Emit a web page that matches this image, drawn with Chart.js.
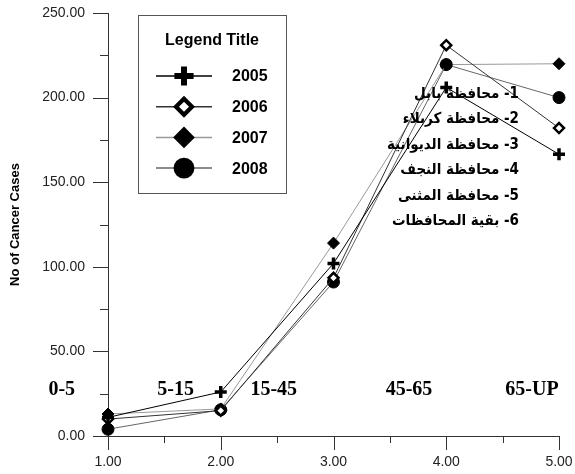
<!DOCTYPE html>
<html>
<head>
<meta charset="utf-8">
<script src="https://cdn.jsdelivr.net/npm/chart.js@4.4.1/dist/chart.umd.min.js"></script>
<style>
html, body { margin: 0; padding: 0; background: #fff; }
</style>
</head>
<body>
<canvas id="myChart" width="575" height="474"></canvas>
<script>
// age group index on the x axis
var groups = [1, 2, 3, 4, 5];
var xTicks = [1, 2, 3, 4, 5];
var yTicks = [0, 50, 100, 150, 200, 250];
var ageLabels = ['0-5', '5-15', '15-45', '45-65', '65-UP'];
var years = ['2005', '2006', '2007', '2008'];
var cases2005 = [11, 26, 102, 206, 166.5];
var cases2006 = [10, 15, 93.5, 231, 182];
var cases2007 = [13, 16, 114, 219.5, 220];
var cases2008 = [4, 15.5, 91, 219.5, 200];
var provinces = [
    '1- محافظة بابل',
    '2- محافظة كربلاء',
    '3- محافظة الديوانية',
    '4- محافظة النجف',
    '5- محافظة المثنى',
    '6- بقية المحافظات'
];

// where the age group names sit, in axis units
var agePosX = [0.59, 1.6, 2.47, 3.67, 4.76];
var agePosY = 27.3;

function pts(vals) {
    return groups.map(function (g, i) { return { x: g, y: vals[i] }; });
}

// scales add tick padding to the layout; keep the plot box fixed instead
function fixBox(s, w, h) {
    if (w) s.width = w;
    if (h) s.height = h;
    s.paddingTop = 0;
    s.paddingBottom = 0;
    s.paddingLeft = 0;
    s.paddingRight = 0;
}

var extras = {
    id: 'extras',
    afterDraw: function (chart) {
        var c = chart.ctx;
        var xs = chart.scales.x, ys = chart.scales.y;
        var area = chart.chartArea;
        c.save();

        // tick marks, major and minor
        c.strokeStyle = '#333';
        c.lineWidth = 1;
        c.beginPath();
        for (var v = 0; v <= 250; v += 25) {
            var py = Math.round(ys.getPixelForValue(v)) + 0.5;
            c.moveTo(area.left - (v % 50 === 0 ? 15 : 8), py);
            c.lineTo(area.left, py);
        }
        for (var u = 1; u <= 5; u += 0.5) {
            var px = Math.round(xs.getPixelForValue(u)) + 0.5;
            c.moveTo(px, area.bottom);
            c.lineTo(px, area.bottom + (u % 1 === 0 ? 14 : 7));
        }
        c.stroke();

        // legend box
        var lx = 138, ly = 15, lw = 148, lh = 178;
        c.fillStyle = '#fff';
        c.fillRect(lx, ly, lw, lh);
        c.strokeStyle = '#555';
        c.strokeRect(lx + 0.5, ly + 0.5, lw, lh);
        c.fillStyle = '#000';
        c.font = 'bold 16px "Liberation Sans", Arial, sans-serif';
        c.textAlign = 'center';
        c.textBaseline = 'middle';
        c.fillText('Legend Title', 212, 41);
        chart.data.datasets.forEach(function (ds, i) {
            var yy = 76 + i * 30.7;
            c.strokeStyle = ds.borderColor;
            c.lineWidth = 1.5;
            c.beginPath();
            c.moveTo(156, yy);
            c.lineTo(212, yy);
            c.stroke();
            c.fillStyle = ds.pointBackgroundColor;
            c.strokeStyle = '#000';
            c.lineWidth = ds.pointBorderWidth * 1.7;
            Chart.helpers.drawPoint(c, {
                pointStyle: ds.pointStyle,
                radius: ds.pointRadius * 1.6,
                rotation: 0,
                borderWidth: ds.pointBorderWidth * 1.7
            }, 184, yy);
            c.fillStyle = '#000';
            c.textAlign = 'left';
            c.fillText(ds.label, 232, yy + 1);
        });

        // age group names
        c.font = 'bold 20px "Liberation Serif", "Times New Roman", serif';
        c.textAlign = 'center';
        c.fillStyle = '#000';
        ageLabels.forEach(function (t, i) {
            c.fillText(t, xs.getPixelForValue(agePosX[i]), ys.getPixelForValue(agePosY));
        });

        // province list
        c.font = 'bold 15px "DejaVu Sans Condensed", "DejaVu Sans", sans-serif';
        c.direction = 'rtl';
        c.textAlign = 'right';
        provinces.forEach(function (t, i) {
            c.fillText(t, 519, 94 + i * 25.5);
        });
        c.restore();
    }
};

var ctx = document.getElementById('myChart').getContext('2d');
var myChart = new Chart(ctx, {
    type: 'line',
    data: {
        datasets: [
            {
                label: years[0],
                data: pts(cases2005),
                borderColor: '#000',
                borderWidth: 1,
                pointStyle: 'cross',
                pointRadius: 6,
                pointBorderWidth: 3.5,
                pointBorderColor: '#000',
                pointBackgroundColor: '#000'
            },
            {
                label: years[1],
                data: pts(cases2006),
                borderColor: '#333',
                borderWidth: 1,
                pointStyle: 'rectRot',
                pointRadius: 5,
                pointBorderWidth: 2.5,
                pointBorderColor: '#000',
                pointBackgroundColor: '#fff'
            },
            {
                label: years[2],
                data: pts(cases2007),
                borderColor: '#999',
                borderWidth: 1,
                pointStyle: 'rectRot',
                pointRadius: 6,
                pointBorderWidth: 1,
                pointBorderColor: '#000',
                pointBackgroundColor: '#000'
            },
            {
                label: years[3],
                data: pts(cases2008),
                borderColor: '#666',
                borderWidth: 1,
                pointStyle: 'circle',
                pointRadius: 6,
                pointBorderWidth: 1,
                pointBorderColor: '#000',
                pointBackgroundColor: '#000'
            }
        ]
    },
    options: {
        responsive: false,
        animation: false,
        clip: false,
        layout: { padding: { top: 13, right: 16, left: 0, bottom: 0 } },
        plugins: { legend: { display: false }, tooltip: { enabled: false } },
        elements: { line: { tension: 0 } },
        scales: {
            x: {
                type: 'linear',
                min: 1,
                max: 5,
                grid: { display: false },
                border: { display: true, color: '#333', width: 1 },
                afterBuildTicks: function (s) { s.ticks = xTicks.map(function (v) { return { value: v }; }); },
                afterFit: function (s) { fixBox(s, 0, 38); },
                ticks: {
                    padding: 10,
                    color: '#222',
                    font: { family: '"Liberation Sans", Arial, sans-serif', size: 14 },
                    callback: function (v) { return Number(v).toFixed(2); }
                }
            },
            y: {
                min: 0,
                max: 250,
                grid: { display: false },
                border: { display: true, color: '#333', width: 1 },
                afterBuildTicks: function (s) { s.ticks = yTicks.map(function (v) { return { value: v }; }); },
                afterFit: function (s) { fixBox(s, 108, 0); },
                title: {
                    display: true,
                    text: 'No of Cancer Cases',
                    color: '#000',
                    padding: { top: 8, bottom: 0 },
                    font: { family: '"Liberation Sans", Arial, sans-serif', size: 13, weight: 'bold' }
                },
                ticks: {
                    padding: 15,
                    color: '#222',
                    font: { family: '"Liberation Sans", Arial, sans-serif', size: 14 },
                    callback: function (v) { return Number(v).toFixed(2); }
                }
            }
        }
    },
    plugins: [extras]
});
</script>
</body>
</html>
